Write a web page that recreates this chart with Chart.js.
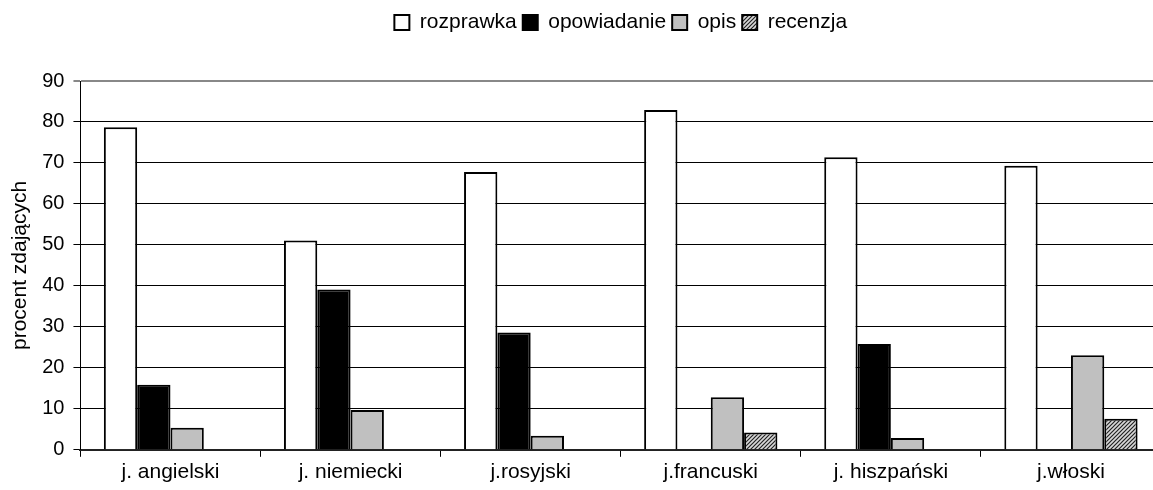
<!DOCTYPE html>
<html>
<head>
<meta charset="utf-8">
<script src="https://cdn.jsdelivr.net/npm/chart.js@4"></script>
<style>
    html, body { margin: 0; padding: 0; background: #fff; overflow: hidden; }
    #wrap { width: 1240px; height: 490px; }
</style>
</head>
<body>
<div id="wrap"><canvas id="examChart"></canvas></div>
<script>
// Categories and series
const languages = ['j. angielski', 'j. niemiecki', 'j.rosyjski', 'j.francuski', 'j. hiszpański', 'j.włoski'];
const rozprawka = [78.7, 51.1, 67.8, 82.9, 71.4, 69.3];
const opowiadanie = [15.9, 39.1, 28.6, 0, 25.8, 0];
const opis = [5.4, 9.7, 3.4, 12.8, 2.9, 23.1];
const recenzja = [0, 0, 0, 4.2, 0, 7.6];
const yTicks = [0, 10, 20, 30, 40, 50, 60, 70, 80, 90];

Chart.defaults.font.family = "'Liberation Sans', Arial, sans-serif";
Chart.defaults.color = '#000';

// diagonal hatch for "recenzja"
function hatchPattern() {
    const c = document.createElement('canvas');
    c.width = 4; c.height = 4;
    const g = c.getContext('2d');
    g.fillStyle = '#d8d8d8';
    g.fillRect(0, 0, 4, 4);
    g.strokeStyle = '#222';
    g.lineWidth = 1.2;
    g.beginPath();
    g.moveTo(0, 4); g.lineTo(4, 0);
    g.moveTo(-2, 2); g.lineTo(2, -2);
    g.moveTo(2, 6); g.lineTo(6, 2);
    g.stroke();
    return g.createPattern(c, 'repeat');
}

// extra room under the legend
const legendGap = {
    id: 'legendGap',
    beforeInit(chart) {
        const fit = chart.legend.fit;
        chart.legend.fit = function () {
            fit.bind(chart.legend)();
            this.height += 38;
        };
    }
};

document.addEventListener('DOMContentLoaded', function () {
    const ctx = document.getElementById('examChart').getContext('2d');
    const common = { borderColor: '#000', borderWidth: 2, borderSkipped: 'bottom' };
    new Chart(ctx, {
        type: 'bar',
        data: {
            labels: languages,
            datasets: [
                Object.assign({ label: 'rozprawka', data: rozprawka, backgroundColor: '#fff' }, common),
                Object.assign({ label: 'opowiadanie', data: opowiadanie, backgroundColor: '#000' }, common),
                Object.assign({ label: 'opis', data: opis, backgroundColor: '#c0c0c0' }, common),
                Object.assign({ label: 'recenzja', data: recenzja, backgroundColor: hatchPattern() }, common)
            ]
        },
        plugins: [legendGap],
        options: {
            responsive: true,
            maintainAspectRatio: false,
            animation: false,
            layout: { padding: { top: 6, right: 79, left: 8, bottom: 2 } },
            datasets: {
                bar: { categoryPercentage: 0.74, barPercentage: 1.0 }
            },
            scales: {
                x: {
                    grid: {
                        display: true,
                        drawOnChartArea: false,
                        drawTicks: true,
                        tickLength: 7,
                        color: '#000',
                        offset: true
                    },
                    border: { display: true, color: '#222', width: 2 },
                    ticks: { font: { size: 21 }, padding: 3 }
                },
                y: {
                    min: 0,
                    max: 90,
                    afterBuildTicks: function (axis) {
                        axis.ticks = yTicks.map(v => ({ value: v }));
                    },
                    grid: {
                        color: function (c) { return c.tick && c.tick.value === 90 ? '#888' : '#000'; },
                        lineWidth: function (c) { return c.tick && c.tick.value === 90 ? 2 : 1; },
                        tickLength: 7
                    },
                    border: { display: true, color: '#000', width: 1 },
                    ticks: { font: { size: 20 }, padding: 9 },
                    title: {
                        display: true,
                        text: 'procent zdających',
                        font: { size: 21 },
                        padding: { top: 0, bottom: 0 }
                    }
                }
            },
            plugins: {
                legend: {
                    position: 'top',
                    fullSize: false,
                    labels: {
                        boxWidth: 15,
                        boxHeight: 15,
                        padding: 6,
                        font: { size: 21 },
                        color: '#000'
                    }
                },
                tooltip: { enabled: false }
            }
        }
    });
});
</script>
</body>
</html>
